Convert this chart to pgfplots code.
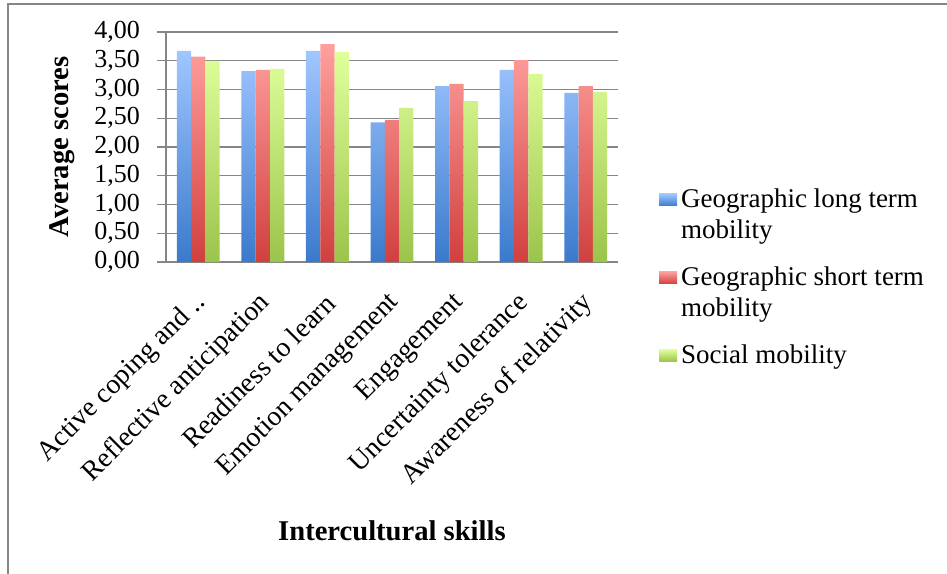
\documentclass[border=0pt]{standalone}
\usepackage{fontspec}
\setmainfont{Liberation Serif}
\usepackage{pgfplots}
\pgfplotsset{compat=1.18}
\definecolor{gridgray}{RGB}{134,134,134}
\definecolor{bluetop}{RGB}{160,198,255}
\definecolor{bluebot}{RGB}{58,122,204}
\definecolor{redtop}{RGB}{255,160,158}
\definecolor{redbot}{RGB}{208,64,62}
\definecolor{greentop}{RGB}{224,255,155}
\definecolor{greenbot}{RGB}{155,196,74}
\pgfplotsset{
  twoline legend/.style={legend image code/.code={\path[##1] (0pt,4.75pt) rectangle (9pt,10.75pt);}},
}
\begin{document}
\begin{tikzpicture}
\useasboundingbox (-83pt,-155.5pt) rectangle (390.5pt,131pt);
\draw[gridgray, line width=0.9pt] (-79pt,-170pt) -- (-79pt,129pt) -- (400pt,129pt);
\begin{axis}[
  at={(0,0)}, anchor=south west,
  scale only axis, width=226pt, height=115pt,
  ybar=0pt, bar width=7.15pt,
  xmin=-0.5, xmax=6.5, ymin=0, ymax=4,
  xtick={0,1,2,3,4,5,6},
  xticklabels={Active coping and ..,Reflective anticipation,Readiness to learn,Emotion management,Engagement,Uncertainty tolerance,Awareness of relativity},
  ytick={0,0.5,1,1.5,2,2.5,3,3.5,4},
  yticklabel style={/pgf/number format/fixed, /pgf/number format/fixed zerofill, /pgf/number format/precision=2, /pgf/number format/use comma, /pgf/number format/assume math mode=true, font=\fontsize{13}{15}\selectfont, xshift=-5pt},
  ymajorgrids, major grid style={gridgray, line width=0.7pt},
  axis x line*=bottom, axis y line*=left,
  axis line style={gridgray, line width=0.7pt},
  x axis line style={-}, y axis line style={-},
  xtick style={draw=none},
  ytick style={gridgray, line width=0.7pt},
  tick align=outside, major tick length=4.5pt,
  xticklabel style={font=\fontsize{13.9}{16}\selectfont, anchor=east, xshift=4pt, yshift=-11.5pt, rotate=45},
  ylabel={Average scores},
  xlabel={Intercultural skills},
  label style={font=\bfseries\fontsize{14.3}{16}\selectfont},
  ylabel style={at={(axis description cs:-0.23,0.5)}, anchor=center},
  xlabel style={at={(axis description cs:0.5,-1.17)}, anchor=center},
  legend style={at={(axis description cs:1.09,0.336)}, anchor=north west, draw=none, fill=none,
    font=\fontsize{13.5}{15.5}\selectfont, cells={align=left}, row sep=8.5pt, inner sep=0pt},
  legend cell align=left,
  legend image code/.code={\path[#1] (0pt,-3pt) rectangle (9pt,3pt);},
]
\addplot[draw=none, top color=bluetop, bottom color=bluebot, twoline legend] coordinates {(0,3.67) (1,3.32) (2,3.67) (3,2.43) (4,3.06) (5,3.34) (6,2.94)};
\addplot[draw=none, top color=redtop, bottom color=redbot, twoline legend] coordinates {(0,3.57) (1,3.34) (2,3.79) (3,2.47) (4,3.10) (5,3.51) (6,3.06)};
\addplot[draw=none, top color=greentop, bottom color=greenbot] coordinates {(0,3.50) (1,3.36) (2,3.65) (3,2.68) (4,2.80) (5,3.27) (6,2.96)};
\addlegendentry{Geographic long term\\mobility}
\addlegendentry{Geographic short term\\mobility}
\addlegendentry{Social mobility}
\end{axis}
\end{tikzpicture}
\end{document}
